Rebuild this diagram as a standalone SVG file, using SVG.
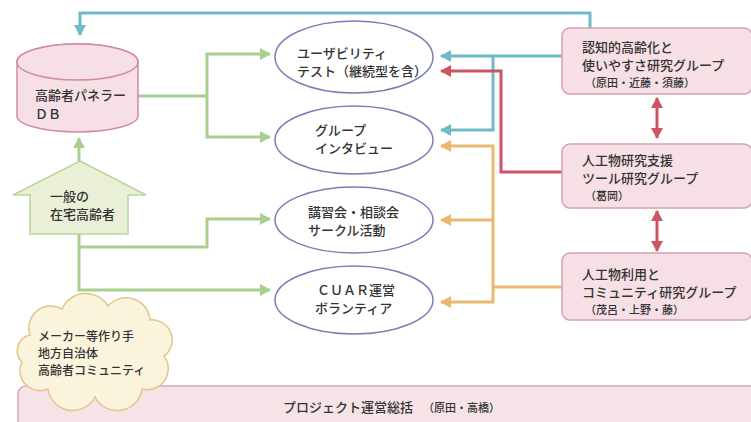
<svg xmlns="http://www.w3.org/2000/svg" width="751" height="422" viewBox="0 0 751 422">
<style>
text{font-family:"Noto Sans CJK JP","Noto Sans",sans-serif;font-size:13px;font-weight:500;fill:#333}
.sm{font-size:11px}
.cl{font-size:12px}
.ell{fill:#fff;stroke:#7c7db5;stroke-width:1.5}
.box{fill:#f6dfe5;stroke:#d8a0b3;stroke-width:1.5}
.c{fill:none;stroke-width:3}
.g{stroke:#a9cf8e}.b{stroke:#6fb9c9}.r{stroke:#cc5563}.o{stroke:#ebb870}
</style>
<defs>
<marker id="ag" markerUnits="userSpaceOnUse" markerWidth="12" markerHeight="12" refX="10" refY="6" orient="auto"><path d="M0,0L11,6L0,12z" fill="#a9cf8e"/></marker>
<marker id="ab" markerUnits="userSpaceOnUse" markerWidth="12" markerHeight="12" refX="10" refY="6" orient="auto"><path d="M0,0L11,6L0,12z" fill="#6fb9c9"/></marker>
<marker id="ar" markerUnits="userSpaceOnUse" markerWidth="12" markerHeight="12" refX="10" refY="6" orient="auto"><path d="M0,0L11,6L0,12z" fill="#cc5563"/></marker>
<marker id="ars" markerUnits="userSpaceOnUse" markerWidth="12" markerHeight="12" refX="1" refY="6" orient="auto"><path d="M11,0L0,6L11,12z" fill="#cc5563"/></marker>
<marker id="ao" markerUnits="userSpaceOnUse" markerWidth="12" markerHeight="12" refX="10" refY="6" orient="auto"><path d="M0,0L11,6L0,12z" fill="#ebb870"/></marker>
</defs>

<g id="connectors">
<path class="c b" d="M590,28V13H80V35" marker-end="url(#ab)"/>
<path class="c b" d="M562,56H441" marker-end="url(#ab)"/>
<path class="c b" d="M493,56V130H441" marker-end="url(#ab)"/>
<path class="c r" d="M562,172H501V71H441" marker-end="url(#ar)"/>
<path class="c o" d="M562,287H493"/>
<path class="c o" d="M493,220V302H441" marker-end="url(#ao)"/>
<path class="c o" d="M493,220V146H441" marker-end="url(#ao)"/>
<path class="c o" d="M493,220H441" marker-end="url(#ao)"/>
<path class="c g" d="M138,96H207"/>
<path class="c g" d="M207,96V54H270" marker-end="url(#ag)"/>
<path class="c g" d="M207,96V137H270" marker-end="url(#ag)"/>
<path class="c g" d="M79,162V138" marker-end="url(#ag)"/>
<path class="c g" d="M79,234V290H270" marker-end="url(#ag)"/>
<path class="c g" d="M79,247H207V219H270" marker-end="url(#ag)"/>
<path class="c r" d="M657,98V138" marker-start="url(#ars)" marker-end="url(#ar)"/>
<path class="c r" d="M657,211V251" marker-start="url(#ars)" marker-end="url(#ar)"/>
</g>

<g id="db">
<path d="M17,62V116A60.5,16 0 0 0 138,116V62A60.5,18 0 0 0 17,62z" fill="#f6dfe5" stroke="#d08aa5" stroke-width="1.5"/>
<ellipse cx="77.5" cy="62" rx="60.5" ry="18" fill="#f6dfe5" stroke="#d08aa5" stroke-width="1.5"/>
<text x="35" y="100">高齢者パネラー</text>
<text x="35" y="119">ＤＢ</text>
</g>

<g id="house">
<path d="M80,161L146,195H128V234H30V195H13z" fill="#eaf0d8" stroke="#b9d59d" stroke-width="1.5"/>
<text x="50" y="201">一般の</text>
<text x="50" y="219">在宅高齢者</text>
</g>

<g id="bar">
<rect x="18" y="386" width="740" height="50" rx="8" fill="#f6e3e8" stroke="#d9a6bb" stroke-width="1.5"/>
<text x="283" y="412">プロジェクト運営総括<tspan class="sm" dx="10">（原田・高橋）</tspan></text>
</g>

<g id="cloud">
<path d="M30,335A22,22 0 0 1 62,309A26,26 0 0 1 108,306A24,24 0 0 1 150,320A20,20 0 0 1 164,356A21,21 0 0 1 142,389A25,25 0 0 1 95,397A25,25 0 0 1 48,389A20,20 0 0 1 22,362A16,16 0 0 1 30,335z" fill="#fbf4dc" stroke="#e3c48d" stroke-width="1.5"/>
<text class="cl" x="38" y="341">メーカー等作り手</text>
<text class="cl" x="38" y="358">地方自治体</text>
<text class="cl" x="38" y="375">高齢者コミュニティ</text>
</g>

<g id="e1">
<ellipse class="ell" cx="354" cy="57" rx="79" ry="36"/>
<text x="297" y="58">ユーザビリティ</text>
<text x="297" y="76">テスト（継続型を含）</text>
</g>
<g id="e2">
<ellipse class="ell" cx="354" cy="140" rx="79" ry="34"/>
<text x="315" y="135">グループ</text>
<text x="315" y="153">インタビュー</text>
</g>
<g id="e3">
<ellipse class="ell" cx="354" cy="220" rx="79" ry="33"/>
<text x="308" y="217">講習会・相談会</text>
<text x="308" y="235">サークル活動</text>
</g>
<g id="e4">
<ellipse class="ell" cx="354" cy="300" rx="79" ry="34"/>
<text x="317" y="295">ＣＵＡＲ運営</text>
<text x="315" y="313">ボランティア</text>
</g>

<g id="g1">
<rect class="box" x="562" y="28" width="190" height="66" rx="8"/>
<text x="582" y="52">認知的高齢化と</text>
<text x="582" y="70">使いやすさ研究グループ</text>
<text class="sm" x="585" y="87">（原田・近藤・須藤）</text>
</g>
<g id="g2">
<rect class="box" x="562" y="144" width="190" height="64" rx="8"/>
<text x="582" y="165">人工物研究支援</text>
<text x="582" y="183">ツール研究グループ</text>
<text class="sm" x="585" y="200">（葛岡）</text>
</g>
<g id="g3">
<rect class="box" x="562" y="253" width="190" height="67" rx="8"/>
<text x="582" y="279">人工物利用と</text>
<text x="582" y="297">コミュニティ研究グループ</text>
<text class="sm" x="585" y="314">（茂呂・上野・藤）</text>
</g>
</svg>
